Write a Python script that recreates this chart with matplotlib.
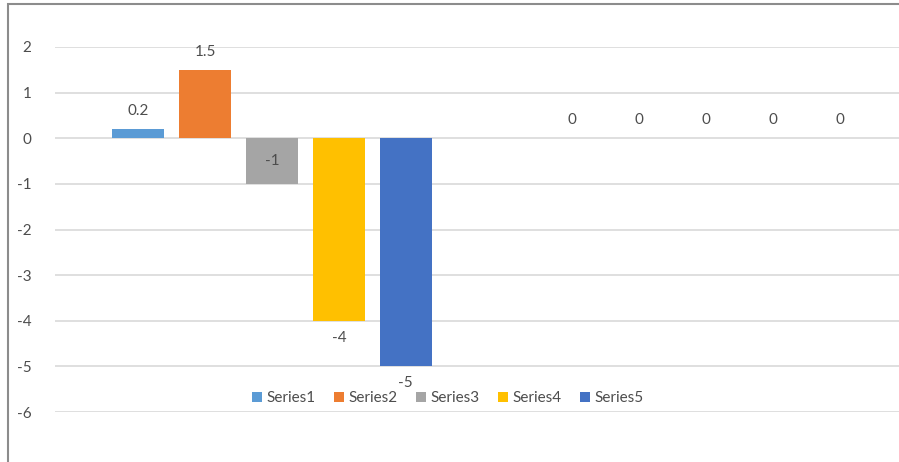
import numpy as np
import matplotlib.pyplot as plt
from matplotlib.patches import Rectangle

plt.rcParams['font.family'] = ['Lato', 'DejaVu Sans']

# data
categories = [1, 2]
series_names = ["Series1", "Series2", "Series3", "Series4", "Series5"]
series1 = [0.2, 0]
series2 = [1.5, 0]
series3 = [-1, 0]
series4 = [-4, 0]
series5 = [-5, 0]
yticks = [2, 1, 0, -1, -2, -3, -4, -5, -6]

colors = ["#5B9BD5", "#ED7D31", "#A5A5A5", "#FFC000", "#4472C4"]
text_color = "#4D4D4D"
fs = 11

fig = plt.figure(figsize=(8.99, 4.62), dpi=100)
ax = fig.add_axes([55 / 899, 1 - 412 / 462, 868 / 899, 365 / 462])

all_series = [series1, series2, series3, series4, series5]
step = 0.154
width = 0.12
x = np.arange(len(categories))
for i, (name, vals, c) in enumerate(zip(series_names, all_series, colors)):
    xs = x + (i - 2) * step
    bars = ax.bar(xs, vals, width=width, color=c, label=name, zorder=2)
    for b, v in zip(bars, vals):
        cx = b.get_x() + b.get_width() / 2
        if name == "Series3" and v < 0:
            # this one sits inside its bar
            ax.text(cx, v / 2, f"{v:g}", ha="center", va="center",
                    fontsize=fs, color=text_color)
        elif v >= 0:
            ax.annotate(f"{v:g}", (cx, v), xytext=(0, 18),
                        textcoords="offset pixels", ha="center", va="center",
                        fontsize=fs, color=text_color)
        else:
            ax.annotate(f"{v:g}", (cx, v), xytext=(0, -17),
                        textcoords="offset pixels", ha="center", va="center",
                        fontsize=fs, color=text_color)

ax.set_xlim(-0.5, 1.5)
ax.set_ylim(-6, 2)
ax.set_yticks(yticks)
ax.set_yticklabels([f"{t:g}" for t in yticks])
ax.set_xticks([])
ax.tick_params(axis="y", length=0, pad=17, labelsize=fs, labelcolor=text_color)
ax.grid(axis="y", color="#D9D9D9", linewidth=1.2, zorder=0)
for s in ax.spines.values():
    s.set_visible(False)

ax.legend(loc="center", bbox_to_anchor=(448 / 899, 1 - 398 / 462),
          bbox_transform=fig.transFigure, ncol=5, frameon=False,
          fontsize=fs, handlelength=0.65, handleheight=0.65, handletextpad=0.3,
          columnspacing=1.2, labelcolor=text_color)

# chart border
fig.patches.append(Rectangle((8 / 899, -0.1), 1.2, 1 - 4 / 462 + 0.1,
                             transform=fig.transFigure, fill=False,
                             edgecolor="#8C8C8C", linewidth=1.5))

fig.savefig("out.png", dpi=100)
